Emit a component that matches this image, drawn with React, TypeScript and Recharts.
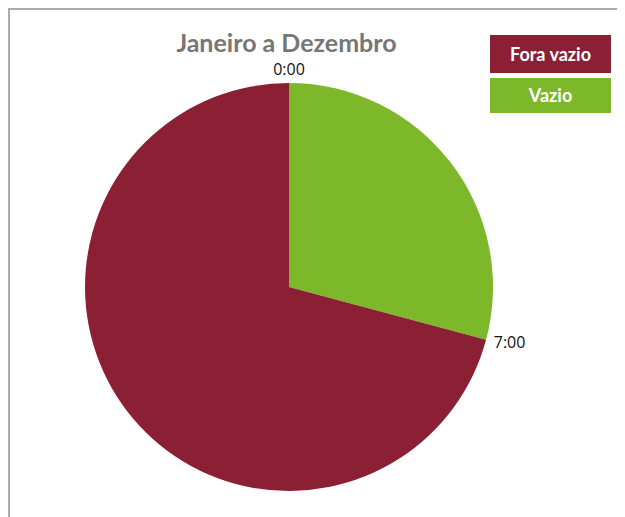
import React from 'react';
import { PieChart, Pie, Cell } from 'recharts';

const periods = ['Vazio', 'Fora vazio'];
const hours = [7, 17];
const startLabels = ['0:00', '7:00'];
const colors = ['#7DB82A', '#8B2035'];
const legendOrder = ['Fora vazio', 'Vazio'];

const data = periods.map((name, i) => ({
  name,
  value: hours[i],
  start: startLabels[i],
}));

const RADIAN = Math.PI / 180;

const renderStartLabel = (props: any) => {
  const { cx, cy, outerRadius, startAngle, payload } = props;
  const r = outerRadius + 8;
  const cos = Math.cos(-startAngle * RADIAN);
  const sin = Math.sin(-startAngle * RADIAN);
  const x = cx + r * cos;
  const y = cy + r * sin;
  const anchor = cos > 0.3 ? 'start' : cos < -0.3 ? 'end' : 'middle';
  const baseline = sin < -0.3 ? 'auto' : sin > 0.3 ? 'hanging' : 'central';
  return (
    <text
      x={x}
      y={y}
      textAnchor={anchor}
      dominantBaseline={baseline}
      fill="#111"
      fontSize={16}
      fontFamily="'Open Sans', sans-serif"
    >
      {payload.start}
    </text>
  );
};

const App: React.FC = () => {
  return (
    <div style={{ position: 'relative', width: 617, height: 509 }}>
      <div
        style={{
          position: 'absolute',
          left: 0,
          top: 0,
          right: 0,
          bottom: 0,
          borderTop: '2px solid #ababab',
          borderLeft: '2px solid #ababab',
          boxSizing: 'border-box',
        }}
      />
      <div
        style={{
          position: 'absolute',
          left: 0,
          width: 557,
          top: 19,
          textAlign: 'center',
          fontFamily: 'Lato, sans-serif',
          fontWeight: 700,
          fontSize: 25,
          color: '#767676',
        }}
      >
        Janeiro a Dezembro
      </div>
      <div style={{ position: 'absolute', left: 482, top: 27, width: 121 }}>
        {legendOrder.map((name) => (
          <div
            key={name}
            style={{
              background: colors[periods.indexOf(name)],
              color: '#fff',
              height: name === 'Fora vazio' ? 38 : 35,
              marginBottom: 5,
              lineHeight: name === 'Fora vazio' ? '38px' : '35px',
              textAlign: 'center',
              fontFamily: 'Lato, sans-serif',
              fontWeight: 700,
              fontSize: 18,
            }}
          >
            {name}
          </div>
        ))}
      </div>
      <PieChart width={617} height={509} style={{ position: 'absolute', left: 0, top: 0 }}>
        <Pie
          data={data}
          dataKey="value"
          nameKey="name"
          cx={276}
          cy={274}
          outerRadius={204}
          startAngle={90}
          endAngle={-270}
          stroke="none"
          label={renderStartLabel}
          labelLine={false}
          isAnimationActive={false}
        >
          {data.map((d, i) => (
            <Cell key={d.name} fill={colors[i]} />
          ))}
        </Pie>
      </PieChart>
    </div>
  );
};

export default App;
